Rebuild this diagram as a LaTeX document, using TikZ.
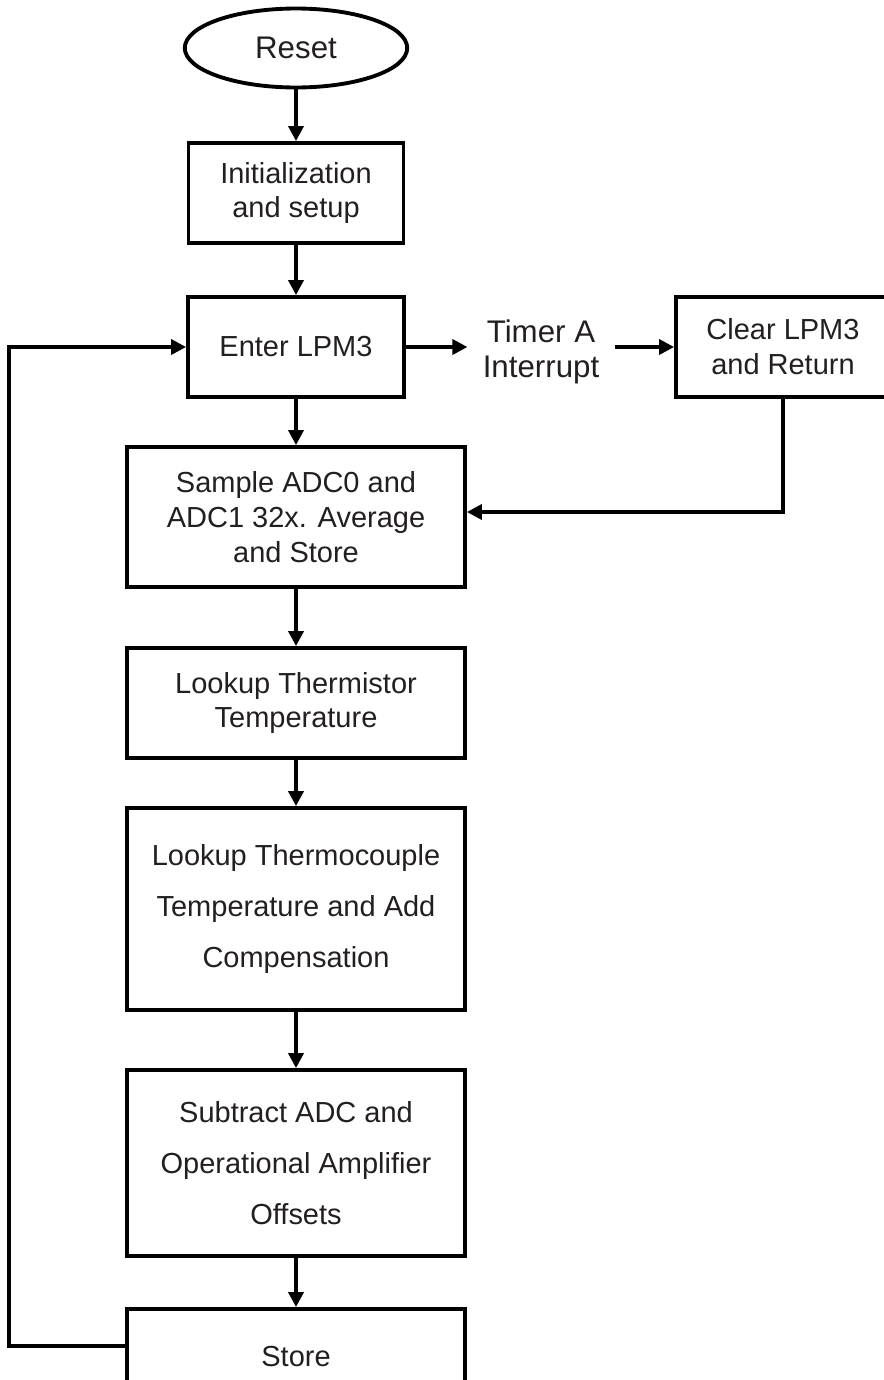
\documentclass[tikz,border=0pt]{standalone}
\usepackage{fontspec}
\setmainfont{Liberation Sans}
\usetikzlibrary{arrows.meta}
\usetikzlibrary{shapes.geometric,positioning}
\definecolor{colorInk}{HTML}{231F20}
\def\colorInk{colorInk}

\begin{document}
\begin{tikzpicture}[x=0.02cm, y=-0.02cm,
    box/.style={draw, rectangle, line width=2.2pt, inner sep=0pt, align=center,
                text=\colorInk, font=\fontsize{16.5pt}{19.9pt}\selectfont},
    widebox/.style={box, font=\fontsize{16.5pt}{29pt}\selectfont},
    term/.style={draw, ellipse, line width=2.2pt, inner sep=0pt,
                 minimum width=4.45cm, minimum height=1.58cm,
                 text=\colorInk, font=\fontsize{17.8pt}{21pt}\selectfont},
    flow/.style={-{Triangle[length=0.3cm,width=0.3cm]}, line width=2pt}]

  % Cadre de l'image
  \useasboundingbox (0,0) rectangle (883,1380);

  % Colonne principale
  \node[term] (reset) at (296,48) {Reset};
  \node[box, minimum width=4.3cm, minimum height=2cm] (init) at (296,193)
    {Initialization\\and setup};
  \node[box, minimum width=4.32cm, minimum height=2cm] (enter) at (296,347)
    {Enter LPM3};
  \node[box, minimum width=6.76cm, minimum height=2.8cm] (sample) at (296,517)
    {Sample ADC0 and\\ADC1 32x. Average\\and Store};
  \node[box, minimum width=6.76cm, minimum height=2.2cm] (thermistor) at (296,703)
    {Lookup Thermistor\\Temperature};
  \node[widebox, minimum width=6.76cm, minimum height=4.04cm] (couple) at (296,909)
    {Lookup Thermocouple\\Temperature and Add\\Compensation};
  \node[widebox, minimum width=6.76cm, minimum height=3.72cm] (subtract) at (296,1163)
    {Subtract ADC and\\Operational Amplifier\\Offsets};
  \node[box, minimum width=6.76cm, minimum height=1.92cm] (store) at (296,1357)
    {Store};

  % Interruption du timer
  \node[inner sep=0.3cm, align=center, text=\colorInk,
        font=\fontsize{17.8pt}{19.9pt}\selectfont] (timer) at (541,352)
    {Timer A\\Interrupt};
  \node[box, minimum width=4.28cm, minimum height=2cm] (clear) at (783,347)
    {Clear LPM3\\and Return};

  % Liaisons
  \draw[flow] (reset) -- (init);
  \draw[flow] (init) -- (enter);
  \draw[flow] (enter) -- (sample);
  \draw[flow] (sample) -- (thermistor);
  \draw[flow] (thermistor) -- (couple);
  \draw[flow] (couple) -- (subtract);
  \draw[flow] (subtract) -- (store);
  \draw[flow] (enter.east) -- (enter.east -| timer.west);
  \draw[flow] (clear.west -| timer.east) -- (clear.west);
  \draw[flow] (clear.south) |- ([yshift=0.1cm]sample.east);

  % Boucle de retour
  \draw[flow] ([yshift=0.22cm]store.west) -- ++(-116,0) |- (enter.west);

\end{tikzpicture}
\end{document}
